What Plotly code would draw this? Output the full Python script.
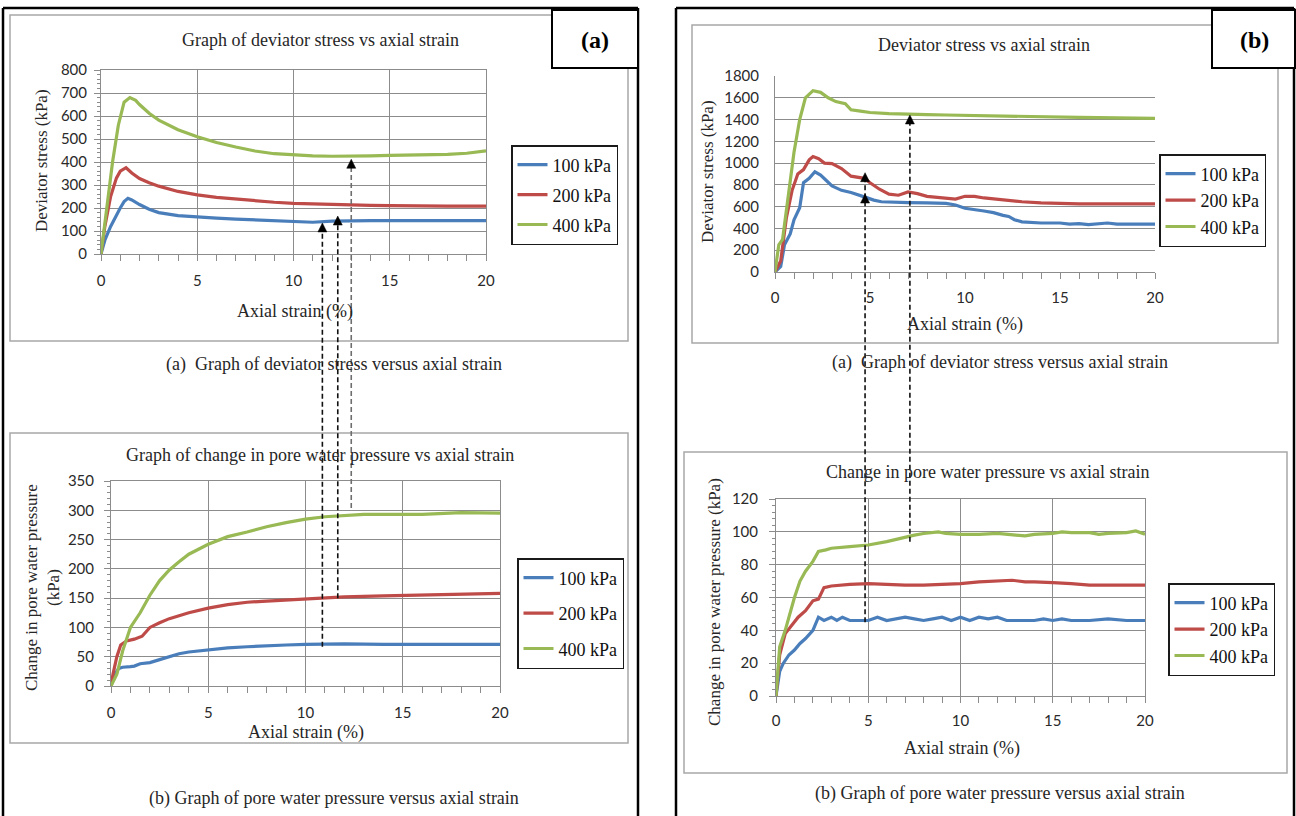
import plotly.graph_objects as go

W, H = 1296, 816

# ---------------- data ----------------
series_names = ["100 kPa", "200 kPa", "400 kPa"]
series_colors = ["#4A7EBB", "#BE4B48", "#98B954"]

# Panel (a) - deviator stress
a_dev_x100 = [0, 0.2, 0.5, 0.8, 1.0, 1.2, 1.4, 1.6, 2.0, 2.5, 3, 4, 5, 6, 7, 8, 9, 10, 11, 12, 13, 14, 15, 16, 17, 18, 19, 20]
a_dev_y100 = [0, 60, 120, 170, 200, 228, 242, 235, 215, 195, 180, 167, 160, 156, 152, 149, 146, 140, 138, 143, 145, 145, 145, 145, 145, 148, 145, 145]
a_dev_x200 = [0, 0.2, 0.5, 0.8, 1.0, 1.3, 1.6, 2.0, 2.5, 3, 4, 5, 6, 7, 8, 9, 10, 11, 12, 13, 14, 15, 16, 17, 18, 19, 20]
a_dev_y200 = [0, 120, 250, 330, 360, 375, 352, 328, 310, 295, 272, 257, 246, 238, 231, 225, 220, 217, 215, 213, 211, 210, 209, 206, 208, 208, 208]
a_dev_x400 = [0, 0.3, 0.6, 0.9, 1.2, 1.5, 1.8, 2.0, 2.5, 3, 4, 5, 6, 7, 8, 9, 10, 11, 12, 13, 14, 15, 16, 17, 18, 19, 20]
a_dev_y400 = [0, 200, 400, 560, 660, 680, 668, 650, 612, 582, 540, 510, 485, 465, 448, 436, 430, 427, 425, 425, 427, 429, 430, 431, 433, 438, 448]

# Panel (a) - change in pore water pressure
a_pwp_x100 = [0, 0.2, 0.4, 0.6, 1.0, 1.2, 1.5, 2.0, 2.5, 3, 3.5, 4, 5, 6, 7, 8, 9, 10, 11, 12, 14, 16, 18, 20]
a_pwp_y100 = [0, 20, 30, 32, 33, 34, 38, 40, 45, 50, 55, 58, 62, 65, 67, 69, 70, 71, 72, 72, 71, 71, 72, 71]
a_pwp_x200 = [0, 0.1, 0.3, 0.5, 0.8, 1.2, 1.6, 2.0, 2.5, 3, 4, 5, 6, 7, 8, 9, 10, 11, 12, 14, 16, 18, 20]
a_pwp_y200 = [0, 20, 50, 70, 77, 80, 85, 100, 108, 115, 125, 133, 139, 143, 145, 147, 149, 151, 152, 154, 155, 157, 158]
a_pwp_x400 = [0, 0.3, 0.6, 1.0, 1.5, 2.0, 2.5, 3, 3.5, 4, 5, 6, 7, 8, 9, 10, 11, 12, 13, 14, 16, 18, 20]
a_pwp_y400 = [0, 20, 60, 100, 125, 155, 180, 198, 212, 225, 242, 255, 263, 272, 279, 285, 289, 291, 293, 293, 293, 296, 295]

# Panel (b) - deviator stress
b_dev_x100 = [0, 0.3, 0.5, 0.8, 1.0, 1.3, 1.5, 1.8, 2.1, 2.4, 2.7, 3.0, 3.5, 4.0, 4.7, 5.2, 5.6, 6, 7, 8, 9, 9.5, 10, 11, 11.5, 12, 12.3, 12.6, 13, 14, 15, 15.5, 16, 16.5, 17, 17.5, 18, 19, 20]
b_dev_y100 = [0, 50, 250, 350, 480, 590, 820, 860, 920, 890, 840, 790, 750, 730, 690, 660, 645, 642, 638, 635, 630, 615, 585, 560, 545, 520, 510, 480, 460, 450, 450, 440, 445, 435, 440, 450, 440, 440, 440]
b_dev_x200 = [0, 0.3, 0.6, 0.9, 1.2, 1.5, 1.8, 2.0, 2.3, 2.6, 3, 3.5, 4, 4.7, 5, 5.5, 6, 6.5, 7, 7.5, 8, 9, 9.5, 10, 10.5, 11, 12, 13, 14, 15, 16, 17, 18, 19, 20]
b_dev_y200 = [0, 100, 500, 750, 900, 940, 1030, 1060, 1040, 1000, 995, 950, 880, 860, 820, 760, 715, 705, 735, 720, 695, 675, 670, 695, 695, 680, 660, 645, 635, 628, 625, 625, 625, 625, 625]
b_dev_x400 = [0, 0.2, 0.4, 0.7, 1.0, 1.3, 1.6, 2.0, 2.4, 2.8, 3.2, 3.7, 4.0, 4.5, 5, 6, 7, 8, 9, 10, 12, 14, 16, 18, 20]
b_dev_y400 = [0, 250, 300, 700, 1100, 1400, 1600, 1665, 1650, 1600, 1565, 1545, 1490, 1478, 1465, 1455, 1448, 1445, 1442, 1438, 1432, 1425, 1420, 1415, 1410]

# Panel (b) - change in pore water pressure
b_pwp_x100 = [0, 0.2, 0.4, 0.7, 1.0, 1.3, 1.6, 2.0, 2.3, 2.6, 3.0, 3.3, 3.6, 4.0, 5.0, 5.5, 6.0, 6.5, 7.0, 7.5, 8.0, 8.5, 9.0, 9.5, 10, 10.5, 11, 11.5, 12, 12.5, 13, 13.5, 14, 14.5, 15, 15.5, 16, 17, 18, 19, 20]
b_pwp_y100 = [0, 15, 20, 25, 28, 32, 35, 40, 48, 46, 48, 46, 48, 46, 46, 48, 46, 47, 48, 47, 46, 47, 48, 46, 48, 46, 48, 47, 48, 46, 46, 46, 46, 47, 46, 47, 46, 46, 47, 46, 46]
b_pwp_x200 = [0, 0.2, 0.5, 0.8, 1.2, 1.6, 2.0, 2.3, 2.6, 3, 4, 5, 6, 7, 8, 9, 10, 11, 12, 12.8, 13.5, 14, 15, 16, 17, 18, 19, 20]
b_pwp_y200 = [0, 25, 38, 42, 48, 52, 58, 59, 66, 67, 68, 68.5, 68, 67.5, 67.5, 68, 68.5, 69.5, 70, 70.5, 69.5, 69.5, 69, 68.5, 67.5, 67.5, 67.5, 67.5]
b_pwp_x400 = [0, 0.2, 0.5, 0.8, 1.0, 1.3, 1.6, 2.0, 2.3, 2.7, 3, 4, 5, 6, 7, 7.5, 8, 8.8, 9.2, 10, 11, 12, 13, 13.5, 14, 15, 15.5, 16, 17, 17.5, 18, 19, 19.5, 20]
b_pwp_y400 = [0, 30, 40, 52, 60, 70, 76, 82, 88, 89, 90, 91, 92, 94, 97, 98, 99, 100, 99, 98.5, 98.5, 99, 98, 97.5, 98.5, 99, 100, 99.5, 99.5, 98.5, 99, 99.5, 100.5, 98.5]

# dashed guide arrows (strain in top chart, arrow tip in top chart, start in bottom chart)
a_arrow_strain = [11.5, 12.3, 13.0]
a_arrow_tip = [[135], [165], [412]]
a_arrow_start = [67, 150, 304]
b_arrow_strain = [4.74, 7.1]
b_arrow_tip = [[912, 716], [1442]]
b_arrow_start = [45, 94]

# ---------------- layout helpers ----------------
def PX(x):
    return x / W

def PY(y):
    return 1 - y / H

SERIF = "Liberation Serif, Times New Roman, serif"
SANS = "Lato, Carlito, Calibri, sans-serif"
GRID = "#8C8C8C"
TXT = "#262626"

# plot areas in pixels: (left, right, top, bottom)
areas = {
    1: (101, 486, 70, 254),
    2: (111, 500, 481, 686),
    3: (775, 1155, 76, 272),
    4: (776, 1145, 499, 696),
}
yranges = {1: [0, 800], 2: [0, 350], 3: [0, 1800], 4: [0, 120]}
ydticks = {1: 100, 2: 50, 3: 200, 4: 20}

fig = go.Figure()

panel_data = {
    1: [(a_dev_x100, a_dev_y100), (a_dev_x200, a_dev_y200), (a_dev_x400, a_dev_y400)],
    2: [(a_pwp_x100, a_pwp_y100), (a_pwp_x200, a_pwp_y200), (a_pwp_x400, a_pwp_y400)],
    3: [(b_dev_x100, b_dev_y100), (b_dev_x200, b_dev_y200), (b_dev_x400, b_dev_y400)],
    4: [(b_pwp_x100, b_pwp_y100), (b_pwp_x200, b_pwp_y200), (b_pwp_x400, b_pwp_y400)],
}

for p, series in panel_data.items():
    sfx = "" if p == 1 else str(p)
    for (xs, ys), name, col in zip(series, series_names, series_colors):
        fig.add_trace(go.Scatter(
            x=xs, y=ys, mode="lines", name=name,
            line=dict(color=col, width=3.2),
            xaxis="x" + sfx, yaxis="y" + sfx,
            legend="legend" + sfx, legendgroup=f"p{p}{name}",
            showlegend=True, hoverinfo="skip",
        ))

layout = dict(
    width=W, height=H, autosize=False,
    margin=dict(l=0, r=0, t=0, b=0),
    paper_bgcolor="white", plot_bgcolor="rgba(0,0,0,0)",
    template="none", showlegend=True,
)

y_minor = {1: 20, 2: 10, 3: None, 4: 4}
x_grid = {1: True, 2: True, 3: False, 4: True}
mirror = {1: True, 2: True, 3: False, 4: True}
xlab_stand = {1: 7, 2: 7, 3: 6, 4: 5}
ylab_stand = {1: 4, 2: 7, 3: 12, 4: 8}

for p, (l, r, t, b) in areas.items():
    sfx = "" if p == 1 else str(p)
    xa = dict(
        domain=[PX(l), PX(r)], range=[0, 20], tick0=0, dtick=5,
        showgrid=x_grid[p], gridcolor=GRID, gridwidth=1,
        showline=True, linecolor=GRID, linewidth=1, mirror=mirror[p],
        ticks="outside", ticklen=6, tickcolor=GRID,
        minor=dict(dtick=1, ticks="outside", ticklen=6, tickcolor=GRID, showgrid=False),
        tickfont=dict(family=SANS, size=15, color="#2a2a2a"),
        ticklabelstandoff=xlab_stand[p],
        zeroline=False, anchor="y" + sfx, fixedrange=True,
    )
    ya = dict(
        domain=[PY(b), PY(t)], range=yranges[p], tick0=0, dtick=ydticks[p],
        showgrid=True, gridcolor=GRID, gridwidth=1,
        showline=True, linecolor=GRID, linewidth=1, mirror=mirror[p],
        ticks="outside" if p != 3 else "", ticklen=6, tickcolor=GRID,
        tickfont=dict(family=SANS, size=15, color="#2a2a2a"),
        ticklabelstandoff=ylab_stand[p],
        zeroline=False, anchor="x" + sfx, fixedrange=True,
    )
    if y_minor[p]:
        ya["minor"] = dict(dtick=y_minor[p], ticks="outside", ticklen=3, tickcolor=GRID, showgrid=False)
    layout["xaxis" + sfx] = xa
    layout["yaxis" + sfx] = ya

# legends: (left px, top px, group gap)
legend_pos = {1: (511, 145, 3.5), 2: (517, 558, 9), 3: (1159, 154, 0), 4: (1168, 583, 0)}
for p, (lx, ty, gap) in legend_pos.items():
    sfx = "" if p == 1 else str(p)
    layout["legend" + sfx] = dict(
        x=PX(lx), y=PY(ty), xanchor="left", yanchor="top",
        bgcolor="white", bordercolor="#1a1a1a", borderwidth=1.5,
        font=dict(family=SERIF, size=18, color="#111111"),
        itemwidth=30, tracegroupgap=gap, traceorder="grouped",
    )

fig.update_layout(**layout)

# ---------------- texts ----------------
texts = [
    # (text, x px, y px, size, angle)
    ("Graph of deviator stress vs axial strain", 320, 40, 18, 0),
    ("Axial strain (%)", 295, 311, 18, 0),
    ("Deviator stress (kPa)", 42, 161, 17, -90),
    ("(a)  Graph of deviator stress versus axial strain", 334, 364, 18, 0),
    ("Graph of change in pore water pressure vs axial strain", 320, 455, 18, 0),
    ("Axial strain (%)", 306, 732, 18, 0),
    ("Change in pore water pressure<br>(kPa)", 42, 588, 17, -90),
    ("(b) Graph of pore water pressure versus axial strain", 334, 798, 18, 0),
    ("Deviator stress vs axial strain", 984, 45, 18, 0),
    ("Axial strain (%)", 965, 325, 18, 0),
    ("Deviator stress (kPa)", 707, 172, 17, -90),
    ("(a)  Graph of deviator stress versus axial strain", 1000, 362, 18, 0),
    ("Change in pore water pressure vs axial strain", 987, 472, 18, 0),
    ("Axial strain (%)", 962, 748, 18, 0),
    ("Change in pore water pressure (kPa)", 714, 602, 17, -90),
    ("(b) Graph of pore water pressure versus axial strain", 1000, 793, 18, 0),
]
for txt, x, y, s, ang in texts:
    fig.add_annotation(text=txt, x=PX(x), y=PY(y), xref="paper", yref="paper",
                       xanchor="center", yanchor="middle", showarrow=False,
                       textangle=ang, font=dict(family=SERIF, size=s, color=TXT))

# ---------------- frames ----------------
shapes = []
def rect(x0, y0, x1, y1, color, width, fill=None):
    shapes.append(dict(type="rect", xref="paper", yref="paper",
                       x0=PX(x0), x1=PX(x1), y0=PY(y1), y1=PY(y0),
                       line=dict(color=color, width=width),
                       fillcolor=fill if fill else "rgba(0,0,0,0)", layer="above"))

def line(x0, y0, x1, y1, color, width, dash="solid"):
    shapes.append(dict(type="line", xref="paper", yref="paper",
                       x0=PX(x0), x1=PX(x1), y0=PY(y0), y1=PY(y1),
                       line=dict(color=color, width=width, dash=dash), layer="above"))

# grey chart boxes
rect(10, 15, 628, 341, "#A8A8A8", 1.5)
rect(10, 433, 628, 743, "#A8A8A8", 1.5)
rect(692, 25, 1278, 343, "#A8A8A8", 1.5)
rect(684, 452, 1287, 773, "#A8A8A8", 1.5)
# outer black frames
line(3, 8, 3, 816, "black", 2.5)
line(3, 8, 638, 8, "black", 2.5)
line(638, 8, 638, 816, "black", 2.5)
line(676, 8, 676, 816, "black", 2.5)
line(676, 8, 1294, 8, "black", 2.5)
line(1294, 8, 1294, 816, "black", 2.5)
# label boxes
rect(552, 10, 638, 68, "black", 2, "white")
rect(1212, 10, 1295, 68, "black", 2, "white")

for lab, cx in (("(a)", 595), ("(b)", 1254)):
    fig.add_annotation(text="<b>%s</b>" % lab, x=PX(cx), y=PY(40), xref="paper", yref="paper",
                       showarrow=False, xanchor="center", yanchor="middle",
                       font=dict(family=SERIF, size=24, color="black"))

# ---------------- dashed guide arrows ----------------
def to_px_x(p, v):
    l, r, t, b = areas[p]
    return l + (v - 0) / 20 * (r - l)

def to_px_y(p, v):
    l, r, t, b = areas[p]
    lo, hi = yranges[p]
    return b - (v - lo) / (hi - lo) * (b - t)

def guide(top_p, bot_p, strain, tips, start, color):
    xp = to_px_x(top_p, strain)
    y_start = to_px_y(bot_p, start)
    tip_px = [to_px_y(top_p, v) for v in tips]
    y_top = min(tip_px) + 8
    line(xp, y_start, xp, y_top, color, 1.6, "5px,3px")
    for ty in tip_px:
        path = "M %f %f L %f %f L %f %f Z" % (
            PX(xp), PY(ty), PX(xp - 4.5), PY(ty + 9), PX(xp + 4.5), PY(ty + 9))
        shapes.append(dict(type="path", path=path, xref="paper", yref="paper",
                           fillcolor="black", line=dict(color="black", width=0.5), layer="above"))

a_colors = ["#111111", "#111111", "#6E6E6E"]
for s, tp, st, c in zip(a_arrow_strain, a_arrow_tip, a_arrow_start, a_colors):
    guide(1, 2, s, tp, st, c)
for s, tp, st in zip(b_arrow_strain, b_arrow_tip, b_arrow_start):
    guide(3, 4, s, tp, st, "#111111")

fig.update_layout(shapes=shapes)
fig.write_html("out.html",
               config={"displayModeBar": False},
               post_script="document.body.style.margin='0';document.body.style.padding='0';")
